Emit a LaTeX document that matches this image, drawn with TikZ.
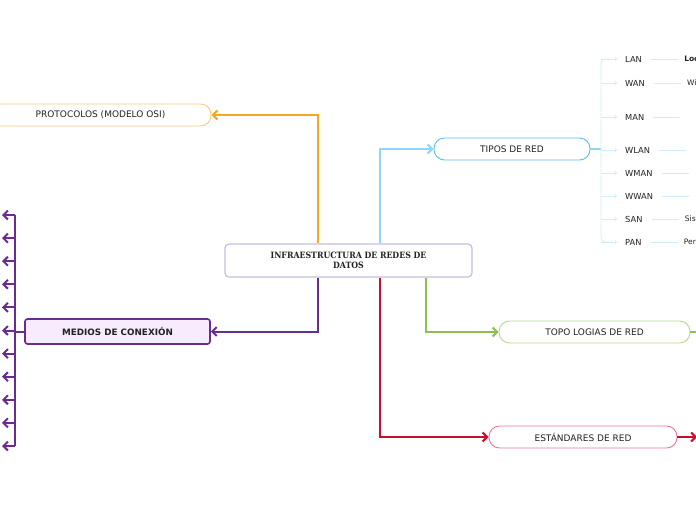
\documentclass[tikz,border=0pt]{standalone}
\usepackage{fontspec}
\setmainfont{DejaVu Sans}
\newfontfamily\slabfont{DejaVu Serif Condensed}
\usetikzlibrary{arrows.meta,calc}
\definecolor{cenborder}{HTML}{C4BDE0}
\definecolor{orgline}{HTML}{F5A623}
\definecolor{orgborder}{HTML}{FBCB7E}
\definecolor{bluline}{HTML}{92D4F4}
\definecolor{bluborder}{HTML}{5BBFE9}
\definecolor{blupale}{HTML}{D2ECF9}
\definecolor{grnline}{HTML}{8CC152}
\definecolor{grnborder}{HTML}{B6DA8C}
\definecolor{redline}{HTML}{C8102E}
\definecolor{redborder}{HTML}{F0749A}
\definecolor{purline}{HTML}{6A2C91}
\definecolor{purfill}{HTML}{F6ECFD}
\definecolor{txtgray}{HTML}{222222}

\begin{document}
\begin{tikzpicture}[x=1pt,y=-1pt,
  every node/.style = {inner sep=0pt, text=txtgray},
  central/.style = {draw=cenborder, line width=1.2pt, rounded corners=4pt, fill=white,
    minimum width=247pt, minimum height=33pt, align=center,
    font=\slabfont\bfseries\fontsize{8.7}{9.5}\selectfont},
  pill/.style = {draw=#1, line width=0.9pt, rounded corners=10.5pt, fill=white,
    minimum height=22pt, font=\fontsize{9}{10}\selectfont},
  branch/.style = {draw=#1, line width=2pt, -{Straight Barb[length=4.5pt,width=9pt]}},
  leaf/.style = {font=\fontsize{8.3}{9}\selectfont, anchor=west},
  thin/.style = {draw=blupale, line width=0.8pt}
  ]
  \useasboundingbox (0,0) rectangle (696,520);

  % central topic
  \node[central] (cen) at (348.5,260.5) {INFRAESTRUCTURA DE REDES DE\\DATOS};

  % main topics
  \node[pill=orgborder, minimum width=221pt] (proto) at (100.5,115) {PROTOCOLOS (MODELO OSI)};
  \node[pill=bluborder, minimum width=156pt] (tipos) at (512,149) {TIPOS DE RED};
  \node[pill=grnborder, minimum width=191pt] (topo) at (594.5,332) {TOPO LOGIAS DE RED};
  \node[pill=redborder, minimum width=188pt] (estand) at (583,437) {ESTÁNDARES DE RED};
  \node[draw=purline, fill=purfill, line width=1.6pt, rounded corners=2.5pt,
    minimum width=185pt, minimum height=25pt,
    font=\bfseries\fontsize{8.8}{10}\selectfont] (medios) at (117.5,331.5) {MEDIOS DE CONEXIÓN};

  % connectors
  \draw[branch=orgline] ([xshift=-30.5pt]cen.north) |- (proto.east);
  \draw[branch=bluline] ([xshift=31.5pt]cen.north) |- (tipos.west);
  \draw[branch=purline] ([xshift=-30.5pt]cen.south) |- (medios.east);
  \draw[branch=grnline] ([xshift=77.5pt]cen.south) |- (topo.west);
  \draw[branch=redline] ([xshift=31.5pt]cen.south) |- (estand.west);

  % right side continuations
  \coordinate (topoend) at (700,332);
  \draw[draw=grnline, line width=2pt] (topo.east) -- (topoend);
  \coordinate (estandend) at (697,437);
  \draw[branch=redline] (estand.east) -- (estandend);

  % tipos de red
  \coordinate (brk) at (601,149);
  \draw[draw=bluline, line width=1.5pt] (tipos.east) -- (brk);
  \draw[thin, rounded corners=4pt] (609,59) -- (601,59) -- (601,242) -- (609,242);
  \foreach \name/\yy/\more in {LAN/59/{\bfseries Local Area Network},
      WAN/83/{Wide Area Network}, MAN/117/{}, WLAN/150/{}, WMAN/173/{},
      WWAN/196/{}, SAN/219/{Sistema}, PAN/242/{Personal Area Network}} {
    \coordinate (k\name) at (601,\yy);
    \node[leaf] (t\name) at (625,\yy) {\name};
    \draw[thin, -{Straight Barb[length=1.5pt,width=3pt]}] (k\name) -- ([xshift=-8pt]t\name.west);
    \coordinate (s\name) at ([xshift=9pt]t\name.east);
    \coordinate (e\name) at ([xshift=36pt]t\name.east);
    \draw[thin] (s\name) -- (e\name);
    \node[leaf, font=\fontsize{7.5}{8}\selectfont] (m\name) at ([xshift=6pt]e\name) {\more};
  }

  % medios de conexion
  \coordinate (bus) at (15,331.5);
  \draw[draw=purline, line width=2pt] (medios.west) -- (bus);
  \draw[draw=purline, line width=2pt] (15,215) -- (15,446);
  \foreach \i in {0,...,10} {
    \coordinate (q\i) at (15,215+23.1*\i);
    \coordinate (p\i) at (2,215+23.1*\i);
    \draw[branch=purline] (q\i) -- (p\i);
  }
\end{tikzpicture}
\end{document}
